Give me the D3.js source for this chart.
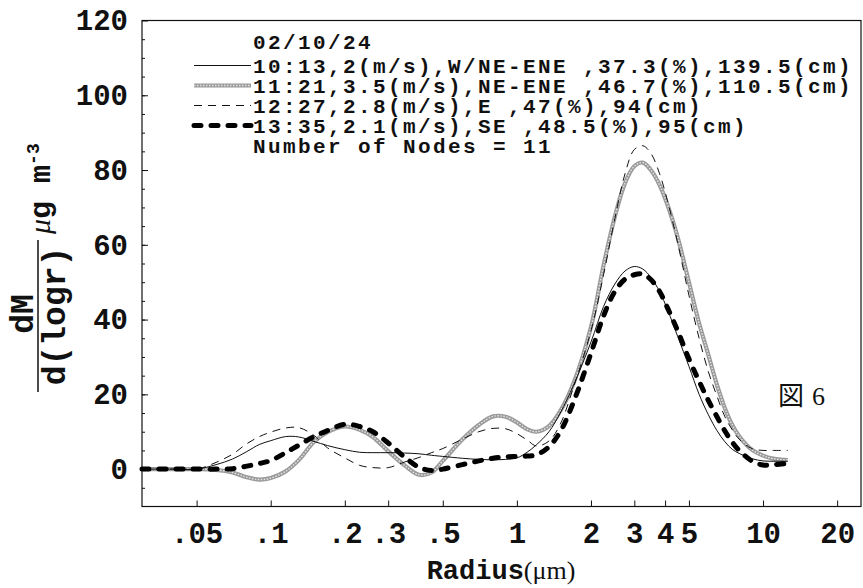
<!DOCTYPE html>
<html>
<head>
<meta charset="utf-8">
<script src="https://cdn.jsdelivr.net/npm/d3@7"></script>
<style>
  body { margin: 0; background: #fff; }
  svg { display: block; }
  .mono { font-family: "Liberation Mono", "DejaVu Sans Mono", monospace; font-weight: bold; }
  .serif { font-family: "Liberation Serif", serif; }
</style>
</head>
<body>
<div class="main"></div>
<script>
const w = 863, h = 588;

// radius grid (um) shared by all runs
const radius = [0.03, 0.04, 0.05, 0.06, 0.07, 0.08, 0.09, 0.1, 0.115, 0.13, 0.15, 0.17, 0.2, 0.23, 0.26, 0.3,
  0.35, 0.4, 0.45, 0.5, 0.6, 0.7, 0.8, 0.9, 1.0, 1.1, 1.2, 1.35, 1.5, 1.7, 2.0, 2.25, 2.5, 2.75, 3.0, 3.25,
  3.5, 3.8, 4.1, 4.5, 5.0, 5.5, 6.0, 6.5, 7.0, 7.5, 8.0, 9.0, 10.0, 11.0, 12.6];

// dM/d(logr) for each run
const run1013 = [0, 0, 0, 1.2, 2.7, 4.7, 6.6, 7.6, 8.7, 8.6, 7.4, 6.3, 5.2, 4.5, 4.4, 4.4,
  4.3, 4.1, 3.7, 3.4, 2.9, 2.6, 2.5, 2.6, 3.0, 4.5, 6.5, 10, 15, 22.5, 34, 43.5, 49.5, 53, 54.2, 53.5,
  51.3, 47.5, 42.5, 35.5, 27.5, 20, 14.5, 10.3, 7.3, 5.3, 4.2, 2.8, 2.2, 2.1, 2.1];
const run1121 = [0, 0, 0, -0.2, -0.9, -2.2, -2.8, -2.4, -0.6, 2.4, 7.3, 9.9, 11.4, 10.5, 8.6, 4.8,
  1.0, -1.5, -0.9, 2.2, 7.9, 11.8, 14.1, 14.0, 12.5, 10.7, 10.0, 11.5, 15.5, 23, 38, 54.5, 67.5, 76.5, 81, 82,
  80, 76, 70.5, 62, 50, 39, 30.5, 22.5, 16.3, 11.8, 8.8, 5.2, 3.6, 2.8, 2.4];
const run1227 = [0, 0, 0, 1.8, 4.0, 6.8, 8.7, 9.9, 11.0, 11.1, 9.0, 5.7, 3.0, 1.0, 0.4, 0.4,
  1.9, 3.1, 4.4, 5.5, 8.0, 10.0, 10.9, 10.8, 9.5, 7.8, 6.2, 7.5, 12, 22, 37, 52, 67, 79, 85.5, 86.5,
  84.5, 79, 71.5, 60.5, 46.5, 35, 26, 19.5, 14, 10.5, 8, 5.5, 5, 5, 5];
const run1335 = [0, 0, 0, 0, 0.1, 0.8, 1.5, 2.3, 4.4, 6.4, 8.7, 10.3, 12, 11.4, 10, 7.0,
  3.2, 0.5, -0.4, 0, 1.2, 2.2, 2.9, 3.3, 3.4, 3.5, 3.8, 6, 10, 18, 31, 41, 47.5, 50.8, 52, 52.2,
  50.7, 47.5, 43, 37, 29.5, 23.5, 18.3, 14, 10.2, 7.2, 5, 2.2, 1.1, 1.2, 1.5];

const legendTitle = '02/10/24';
const legendLabels = [
  '10:13,2(m/s),W/NE-ENE ,37.3(%),139.5(cm)',
  '11:21,3.5(m/s),NE-ENE ,46.7(%),110.5(cm)',
  '12:27,2.8(m/s),E ,47(%),94(cm)',
  '13:35,2.1(m/s),SE ,48.5(%),95(cm)'
];
const legendFoot = 'Number of Nodes = 11';

const xTicks = [0.05, 0.1, 0.2, 0.3, 0.5, 1, 2, 3, 4, 5, 10, 20];
const xTickLabels = ['.05', '.1', '.2', '.3', '.5', '1', '2', '3', '4', '5', '10', '20'];
const yTicks = [0, 20, 40, 60, 80, 100, 120];

const svg = d3.select('.main')
  .append('svg')
  .attr('width', w)
  .attr('height', h);

const x = d3.scaleLog().domain([0.03, 25]).range([142, 861]);
const y = d3.scaleLinear().domain([-10, 120]).range([506.5, 20.5]);

// frame
svg.append('rect')
  .attr('x', x.range()[0]).attr('y', y.range()[1])
  .attr('width', x.range()[1] - x.range()[0])
  .attr('height', y.range()[0] - y.range()[1])
  .attr('fill', 'none').attr('stroke', '#111').attr('stroke-width', 1.2);

// bottom axis
const xAxis = svg.append('g')
  .attr('transform', `translate(0,${y.range()[0]})`)
  .call(d3.axisBottom(x).tickValues(xTicks).tickSize(-6).tickFormat((d, i) => xTickLabels[i]));
xAxis.select('.domain').remove();
xAxis.selectAll('line').attr('stroke', '#111');
xAxis.selectAll('text')
  .attr('class', 'mono').attr('y', 16)
  .style('font-size', '29px').attr('fill', '#111');

// left axis, minor then major
const yMinor = svg.append('g')
  .attr('transform', `translate(${x.range()[0]},0)`)
  .call(d3.axisLeft(y).tickValues(d3.range(-5, 120, 5)).tickSize(-3).tickFormat(''));
yMinor.select('.domain').remove();
yMinor.selectAll('line').attr('stroke', '#111');

const yAxis = svg.append('g')
  .attr('transform', `translate(${x.range()[0]},0)`)
  .call(d3.axisLeft(y).tickValues(yTicks).tickSize(-6));
yAxis.select('.domain').remove();
yAxis.selectAll('line').attr('stroke', '#111');
yAxis.selectAll('text')
  .attr('class', 'mono').attr('x', -14)
  .style('font-size', '29px').attr('fill', '#111');

// curves
const line = d3.line()
  .x((d, i) => x(radius[i]))
  .y(d => y(d))
  .curve(d3.curveCatmullRom.alpha(0.5));

function styleSolid(sel) {
  sel.attr('stroke', '#111').attr('stroke-width', 1);
}
function styleGray(sel, top) {
  if (!top) sel.attr('stroke', '#9a9a9a').attr('stroke-width', 4.2);
  else sel.attr('stroke', '#e6e6e6').attr('stroke-width', 1.4).attr('stroke-dasharray', '1.5,1.5');
}
function styleThin(sel) {
  sel.attr('stroke', '#111').attr('stroke-width', 1).attr('stroke-dasharray', '8,6');
}
function styleThick(sel) {
  sel.attr('stroke', '#000').attr('stroke-width', 5).attr('stroke-linecap', 'round').attr('stroke-dasharray', '7,10');
}

const plot = svg.append('g').attr('fill', 'none');
plot.append('path').datum(run1121).attr('d', line).call(styleGray, false);
plot.append('path').datum(run1121).attr('d', line).call(styleGray, true);
plot.append('path').datum(run1013).attr('d', line).call(styleSolid);
plot.append('path').datum(run1227).attr('d', line).call(styleThin);
plot.append('path').datum(run1335).attr('d', line).call(styleThick);

// legend
const legend = svg.append('g').attr('class', 'legend');
const lx = 253, rowY = [72.5, 92.5, 112.5, 132.5];
const legendFont = '21px', legendSpacing = '2.4px';
legend.append('text').attr('class', 'mono').attr('x', lx).attr('y', 49)
  .style('font-size', legendFont).style('letter-spacing', legendSpacing)
  .attr('fill', '#111').text(legendTitle);
legend.selectAll('text.row')
  .data(legendLabels)
  .enter()
  .append('text')
  .attr('class', 'mono row')
  .attr('x', lx).attr('y', (d, i) => rowY[i])
  .style('font-size', legendFont).style('letter-spacing', legendSpacing)
  .attr('fill', '#111')
  .text(d => d);
legend.append('text').attr('class', 'mono').attr('x', lx).attr('y', 152.5)
  .style('font-size', legendFont).style('letter-spacing', legendSpacing)
  .attr('fill', '#111').text(legendFoot);

const sampleStyles = [
  s => styleSolid(s),
  s => styleGray(s, false),
  s => styleThin(s),
  s => styleThick(s)
];
legendLabels.forEach((d, i) => {
  const yy = rowY[i] - 7;
  const seg = legend.append('line').attr('x1', 194).attr('x2', 251).attr('y1', yy).attr('y2', yy);
  sampleStyles[i](seg);
  if (i === 1) {
    legend.append('line').attr('x1', 194).attr('x2', 251).attr('y1', yy).attr('y2', yy).call(styleGray, true);
  }
});

// figure note
svg.append('text').attr('x', 778).attr('y', 405)
  .style('font-size', '26px').attr('fill', '#111')
  .call(t => {
    t.append('tspan').style('font-family', '"Noto Sans CJK JP"').text('図');
    t.append('tspan').attr('class', 'serif').attr('dx', 8).text('6');
  });

// x title
svg.append('text')
  .attr('x', 501).attr('y', 579)
  .attr('text-anchor', 'middle')
  .attr('fill', '#111')
  .call(t => {
    t.append('tspan').attr('class', 'mono').style('font-size', '27px').text('Radius');
    t.append('tspan').attr('class', 'serif').style('font-size', '26px').text('(\u03bcm)');
  });

// y title: dM / d(log r)  ug m^-3, rotated
const yt = svg.append('g').attr('transform', 'translate(38,316) rotate(-90)').attr('fill', '#111');
yt.append('line').attr('x1', -76).attr('x2', 76).attr('y1', 0).attr('y2', 0)
  .attr('stroke', '#111').attr('stroke-width', 1.5);
yt.append('text').attr('class', 'mono').attr('text-anchor', 'middle').attr('x', 2).attr('y', -5)
  .style('font-size', '33px').text('dM');
yt.append('text').attr('class', 'mono').attr('text-anchor', 'middle').attr('x', 0).attr('y', 27)
  .style('font-size', '33px').text('d(logr)');
yt.append('text').attr('x', 82).attr('y', 12)
  .call(t => {
    t.append('tspan').attr('class', 'serif').style('font-size', '30px').style('font-style', 'italic').text('\u03bc');
    t.append('tspan').attr('class', 'mono').style('font-size', '30px').text('g m');
    t.append('tspan').attr('class', 'mono').style('font-size', '18px').attr('dy', -11).text('-3');
  });
</script>
</body>
</html>
